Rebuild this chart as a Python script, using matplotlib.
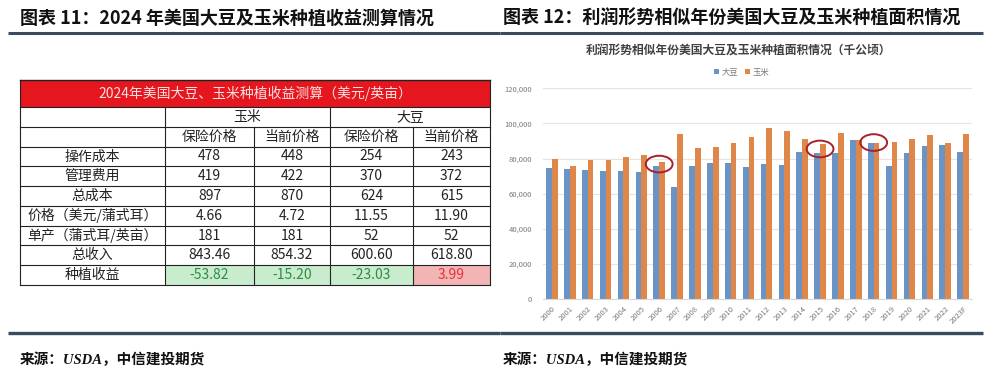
import matplotlib
matplotlib.use('Agg')
import matplotlib.pyplot as plt
from matplotlib.patches import Rectangle, Ellipse
from matplotlib.ticker import StrMethodFormatter
import numpy as np

plt.rcParams['font.family'] = ['Noto Sans CJK SC', 'DejaVu Sans']

# left panel: table values
table_title = '2024年美国大豆、玉米种植收益测算（美元/英亩）'
crops = ['玉米', '大豆']
price_types = ['保险价格', '当前价格', '保险价格', '当前价格']
row_labels = ['操作成本', '管理费用', '总成本', '价格（美元/蒲式耳）',
              '单产（蒲式耳/英亩）', '总收入', '种植收益']
op_cost = ['478', '448', '254', '243']
mgmt_cost = ['419', '422', '370', '372']
total_cost = ['897', '870', '624', '615']
price = ['4.66', '4.72', '11.55', '11.90']
unit_yield = ['181', '181', '52', '52']
revenue = ['843.46', '854.32', '600.60', '618.80']
profit = [-53.82, -15.20, -23.03, 3.99]

# right panel: planted area
years = ['2000', '2001', '2002', '2003', '2004', '2005', '2006', '2007', '2008', '2009',
         '2010', '2011', '2012', '2013', '2014', '2015', '2016', '2017', '2018', '2019',
         '2020', '2021', '2022', '2023F']
soy = [74700, 74100, 73700, 73100, 72800, 72200, 75600, 63600, 75600, 77500,
       77400, 75000, 77100, 76600, 83800, 82900, 83200, 90300, 89100, 76000,
       83200, 87400, 87600, 83600]
corn = [79800, 76000, 79200, 78900, 81100, 81900, 78100, 93700, 86100, 86700,
        88600, 92000, 97300, 95600, 90900, 88000, 94300, 90300, 89100, 89700,
        91000, 93300, 88600, 94100]
circled = ['2006', '2015', '2018']

W, H = 999, 383
fig = plt.figure(figsize=(W / 100, H / 100), dpi=100)
bg = fig.add_axes([0, 0, 1, 1])
bg.set_xlim(0, W)
bg.set_ylim(H, 0)
bg.axis('off')

rule = '#3b4a5c'
title_kw = dict(fontsize=13, fontweight='bold', color='#111111', va='center', ha='left')
bg.text(20, 18, '图表 11：2024 年美国大豆及玉米种植收益测算情况', **title_kw)
bg.text(503, 18, '图表 12：利润形势相似年份美国大豆及玉米种植面积情况', **title_kw)
for x0, x1 in [(8, 500), (500, 983)]:
    bg.plot([x0, x1], [32.5, 32.5], color=rule, lw=2.2, solid_capstyle='butt')
    bg.plot([x0, x1], [333, 333], color=rule, lw=2.4, solid_capstyle='butt')
src_kw = dict(fontsize=10.5, fontweight='bold', style='italic', va='center', ha='left',
              family=['Liberation Serif', 'Noto Sans CJK SC'], color='#111111')
bg.text(20, 360, '来源：USDA，中信建投期货', **src_kw)
bg.text(503, 360, '来源：USDA，中信建投期货', **src_kw)

# ---- table ----
cx = [20, 165, 254, 330, 413, 490]
top, hbot = 80, 107
rh = (285 - hbot) / 9
bg.add_patch(Rectangle((cx[0], top), cx[-1] - cx[0], hbot - top, facecolor='#e5161e',
                       edgecolor='none'))
bg.text((cx[0] + cx[-1]) / 2, (top + hbot) / 2, table_title, fontsize=10,
        color='#fbe0e0', ha='center', va='center')

cell_kw = dict(fontsize=10, color='#222222', ha='center', va='center')
# crop header row
for i, crop in enumerate(crops):
    bg.text((cx[1 + 2 * i] + cx[3 + 2 * i]) / 2, hbot + rh / 2, crop, **cell_kw)
for j, pt in enumerate(price_types):
    bg.text((cx[j + 1] + cx[j + 2]) / 2, hbot + rh * 1.5, pt, **cell_kw)

body = [op_cost, mgmt_cost, total_cost, price, unit_yield, revenue,
        ['%.2f' % v for v in profit]]
for r, (lab, vals) in enumerate(zip(row_labels, body)):
    yc = hbot + rh * (r + 2.5)
    bg.text((cx[0] + cx[1]) / 2, yc, lab, **cell_kw)
    for j, v in enumerate(vals):
        kw = dict(cell_kw)
        if r == len(body) - 1:
            pos = profit[j] > 0
            bg.add_patch(Rectangle((cx[j + 1], yc - rh / 2), cx[j + 2] - cx[j + 1], rh,
                                   facecolor='#f2b4b4' if pos else '#c8eccd',
                                   edgecolor='none'))
            kw['color'] = '#e3343a' if pos else '#2f8c42'
        bg.text((cx[j + 1] + cx[j + 2]) / 2, yc, v, **kw)

# grid lines of table
bot = hbot + rh * 9
for k in range(10):
    y = hbot + rh * k
    bg.plot([cx[0], cx[-1]], [y, y], color='#222222', lw=0.8)
for k, x in enumerate(cx):
    y0 = top if k in (0, len(cx) - 1) else (hbot if k in (1, 3) else hbot + rh)
    bg.plot([x, x], [y0, bot], color='#222222', lw=0.8)
bg.plot([cx[0], cx[-1]], [top, top], color='#222222', lw=1.0)

# ---- bar chart ----
ax = fig.add_axes([543 / W, 1 - 299 / H, (972 - 543) / W, (299 - 88.3) / H])
x = np.arange(len(years))
bw = 0.32
b1 = ax.bar(x - bw / 2, soy, bw, color='#6a94c6', label='大豆', zorder=2)
b2 = ax.bar(x + bw / 2, corn, bw, color='#df8748', label='玉米', zorder=2)
ax.set_ylim(0, 120000)
ax.set_xlim(-0.5, len(years) - 0.5)
ax.set_yticks(np.arange(0, 120001, 20000))
ax.yaxis.set_major_formatter(StrMethodFormatter('{x:,.0f}'))
ax.set_xticks(x)
ax.set_xticklabels(years, rotation=45, ha='right', rotation_mode='anchor')
ax.tick_params(axis='both', length=0, labelsize=5.5, labelcolor='#7a7a7a')
ax.tick_params(axis='y', pad=8)
ax.tick_params(axis='x', pad=4)
ax.grid(axis='y', color='#e4e4e4', lw=0.8, zorder=0)
for s in ['top', 'right', 'left']:
    ax.spines[s].set_visible(False)
ax.spines['bottom'].set_color('#d9d9d9')

for yr in circled:
    i = years.index(yr)
    ax.add_patch(Ellipse((i, (soy[i] + corn[i]) / 2), 1.5, 9500, fill=False,
                         edgecolor='#a8202c', lw=1.4, zorder=3))

fig.text(739 / W, 1 - 50 / H, '利润形势相似年份美国大豆及玉米种植面积情况（千公顷）',
         fontsize=8.5, fontweight='bold', color='#404040', ha='center', va='center')
fig.legend(handles=[b1, b2], loc='center', bbox_to_anchor=(742 / W, 1 - 72 / H),
           ncol=2, frameon=False, fontsize=6, handlelength=0.6, handleheight=0.6,
           handletextpad=0.3, columnspacing=0.8, labelcolor='#7a7a7a')

fig.savefig('out.png', dpi=100)
